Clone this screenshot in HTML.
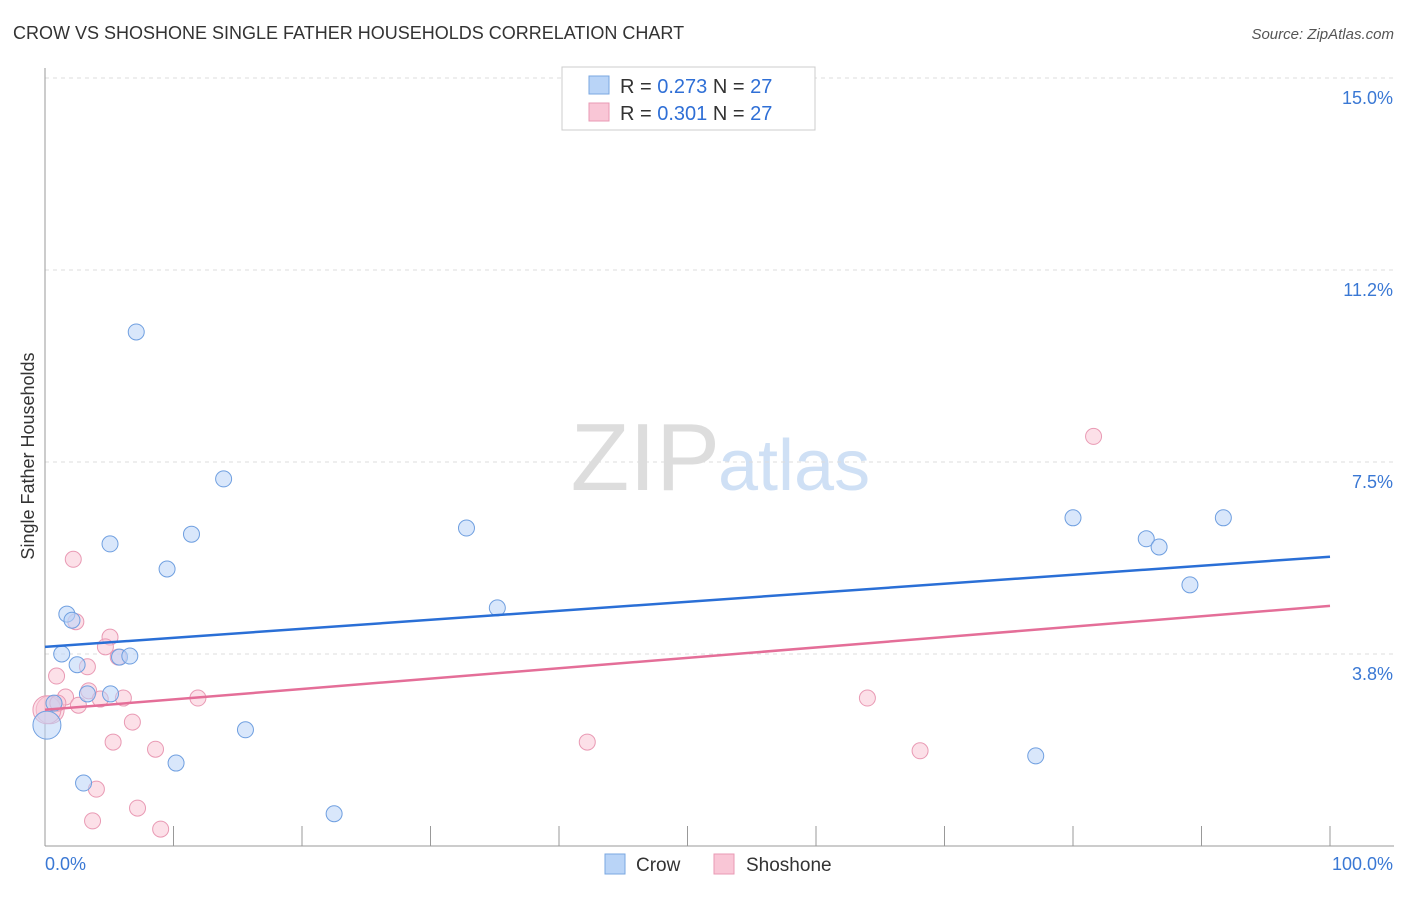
<!DOCTYPE html>
<html><head><meta charset="utf-8">
<style>
body{margin:0;background:#fff;font-family:"Liberation Sans",sans-serif;}
svg text{font-family:"Liberation Sans",sans-serif;}
</style></head>
<body>
<svg id="chart" width="1406" height="892" xmlns="http://www.w3.org/2000/svg">
<text x="13" y="39" font-size="18" fill="#333">CROW VS SHOSHONE SINGLE FATHER HOUSEHOLDS CORRELATION CHART</text>
<text x="1394" y="39" font-size="15" fill="#555" text-anchor="end" font-style="italic">Source: ZipAtlas.com</text>
<text x="720" y="490" font-size="96" text-anchor="end" fill="#ddd" font-family="Liberation Serif">ZIP</text>
<text x="718" y="490" font-size="72" fill="#cfe0f5">atlas</text>
<text transform="translate(34,456) rotate(-90)" font-size="18" fill="#333" text-anchor="middle">Single Father Households</text>
<g id="grid"></g>
<g id="axes"></g>
<g id="marks"></g>
<g>
<rect x="562" y="67" width="253" height="63" fill="#fff" stroke="#ccc"/>
<rect x="589" y="76" width="20" height="18" fill="#b9d4f7" stroke="#7aa7e0"/>
<rect x="589" y="103" width="20" height="18" fill="#f9c6d6" stroke="#e99ab4"/>
<text x="620" y="93" font-size="20" fill="#333">R = <tspan fill="#2f6fd6">0.273</tspan>   N = <tspan fill="#2f6fd6">27</tspan></text>
<text x="620" y="120" font-size="20" fill="#333">R = <tspan fill="#2f6fd6">0.301</tspan>   N = <tspan fill="#2f6fd6">27</tspan></text>
</g>
<g>
<rect x="605" y="854" width="20" height="20" fill="#b9d4f7" stroke="#7aa7e0"/>
<text x="636" y="871" font-size="19" fill="#333">Crow</text>
<rect x="714" y="854" width="20" height="20" fill="#f9c6d6" stroke="#e99ab4"/>
<text x="746" y="871" font-size="19" fill="#333">Shoshone</text>
</g>
</svg>
<script>
const yTicks=[3.75,7.5,11.25,15];
const yTickLabels=["3.8%","7.5%","11.2%","15.0%"];
const crowX=[7.1,13.9,5.06,11.4,9.5,1.7,2.1,1.3,2.5,5.8,6.6,3.3,5.1,0.7,0.15,15.6,10.2,3.0,22.5,32.8,35.2,80.0,85.7,86.7,89.1,91.7,77.1];
const crowY=[10.04,7.17,5.9,6.09,5.41,4.53,4.41,3.75,3.54,3.69,3.71,2.97,2.97,2.79,2.36,2.27,1.62,1.23,0.63,6.21,4.65,6.41,6.0,5.84,5.1,6.41,1.76];
const shoX=[2.2,2.4,5.06,4.7,3.3,5.7,0.9,1.6,3.4,4.3,6.1,2.6,0.4,11.9,6.8,5.3,8.6,4.0,3.7,7.2,9.0,42.2,64.0,68.1,81.6,0.15,1.0];
const shoY=[5.6,4.38,4.08,3.89,3.5,3.69,3.32,2.91,3.03,2.87,2.89,2.75,2.66,2.89,2.42,2.03,1.89,1.11,0.49,0.74,0.33,2.03,2.89,1.86,8.0,2.66,2.79];
const crowTrend=[3.89,5.65];
const shoTrend=[2.66,4.69];
const NS="http://www.w3.org/2000/svg";
const X=v=>45+v*12.85, Y=v=>846-v*51.2;
function mk(tag,attrs,parent){const e=document.createElementNS(NS,tag);for(const k in attrs)e.setAttribute(k,attrs[k]);document.getElementById(parent).appendChild(e);return e;}
yTicks.forEach((t,i)=>{
 const g=mk('line',{x1:45,x2:1394,y1:Y(t),y2:Y(t),stroke:'#ddd','stroke-dasharray':'4,4'},'grid');
 
 
 const l=mk('text',{x:1393,y:Y(t)+26,'font-size':18,fill:'#3a78d4','text-anchor':'end'},'axes');
 l.textContent=yTickLabels[i];
 
 
});
const ax=mk('line',{x1:45,x2:45,y1:68,y2:846,stroke:'#999'},'axes');


const bx=mk('line',{x1:45,x2:1394,y1:846,y2:846,stroke:'#999'},'axes');


for(let i=1;i<=10;i++){const t=mk('line',{x1:X(i*10),x2:X(i*10),y1:826,y2:846,stroke:'#999'},'axes');
 
 }
const x0=mk('text',{x:45,y:870,'font-size':18,fill:'#3a78d4'},'axes');x0.textContent='0.0%';


const x1=mk('text',{x:1393,y:870,'font-size':18,fill:'#3a78d4','text-anchor':'end'},'axes');x1.textContent='100.0%';


function pts(xs,ys,fill,stroke,name){xs.forEach((x,i)=>{const r=(x<0.5)?14:8;
 const c=mk('circle',{cx:X(x),cy:Y(ys[i]),r:r,fill:fill,'fill-opacity':0.55,stroke:stroke,'stroke-width':1},'marks');
 
 });}
pts(shoX,shoY,'#f9c6d6','#e99ab4','shoshone-point');
pts(crowX,crowY,'#b9d4f7','#6f9fe0','crow-point');
const tl1=mk('line',{x1:X(0),x2:X(100),y1:Y(crowTrend[0]),y2:Y(crowTrend[1]),stroke:'#2a6fd6','stroke-width':2.5},'marks');


const tl2=mk('line',{x1:X(0),x2:X(100),y1:Y(shoTrend[0]),y2:Y(shoTrend[1]),stroke:'#e46e98','stroke-width':2.5},'marks');


</script>
</body></html>
